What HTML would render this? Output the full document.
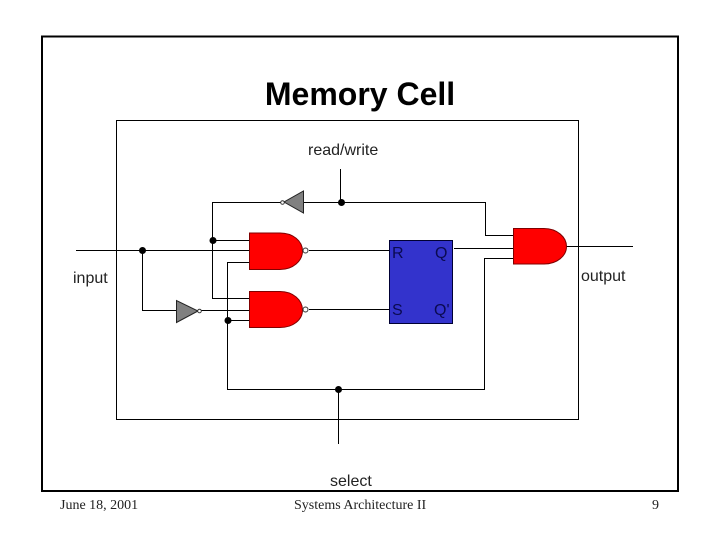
<!DOCTYPE html>
<html><head><meta charset="utf-8"><style>
html,body{margin:0;padding:0;background:#fff}
svg{display:block}
text{font-family:"Liberation Sans",sans-serif;font-size:16px;fill:#222}
.s{font-family:"Liberation Serif",serif;font-size:14px}
</style></head><body>
<svg width="720" height="540" viewBox="0 0 720 540" xmlns="http://www.w3.org/2000/svg">
<rect x="0" y="0" width="720" height="540" fill="#fff"/>
<rect x="42" y="36.500" width="636" height="454.500" fill="none" stroke="#000" stroke-width="2"/>
<rect x="116.500" y="120.500" width="462" height="299" fill="none" stroke="#000" stroke-width="1"/>
<text x="360" y="105" text-anchor="middle" font-weight="bold" style="font-size:32px;fill:#000">Memory Cell</text>
<g fill="none" stroke="#000" stroke-width="1">
<path d="M76 250.500H249M142.500 250V310.500H176M201 310.500H249"/>
<path d="M212.500 298.500V202.500H281M303 202.500H485.500V235.500H513M212 240.500H249M212 298.500H249"/>
<path d="M249 262.500H227.500V389.500H484.500V258.500H513M227 320.500H249"/>
<path d="M340.500 169V202M338.500 389V444"/>
<path d="M309 250.500H390M309 309.500H390M454 248.500H513M566 246.500H633"/>
</g>
<rect x="389.500" y="240.500" width="63" height="83" fill="#3333cc" stroke="#000033" stroke-width="1"/>
<g fill="#ff0000" stroke="#800000" stroke-width="1">
<path d="M249.500 233H280C293 233 302.500 241 302.500 251C302.500 261 293 269.500 280 269.500H249.500Z"/>
<path d="M249.500 291.500H280C293 291.500 302.500 300 302.500 310C302.500 320 293 327.500 280 327.500H249.500Z"/>
<path d="M513.500 228.500H544C557 228.500 566.500 237 566.500 246.500C566.500 256 557 264 544 264H513.500Z"/>
</g>
<g fill="#fff" stroke="#000" stroke-width="1">
<circle cx="305.500" cy="250.500" r="2.500" stroke="#333"/>
<circle cx="305.500" cy="309.500" r="2.500" stroke="#333"/>
</g>
<g fill="#808080" stroke="#222" stroke-width="1">
<path d="M176.500 300.500V322.500L198 311Z"/>
<path d="M303.500 191V213L284 202Z"/>
</g>
<g fill="#fff" stroke="#333" stroke-width="1">
<circle cx="199.500" cy="311" r="1.800"/>
<circle cx="282.500" cy="202.500" r="1.800"/>
</g>
<g fill="#000">
<circle cx="142.500" cy="250.500" r="3.500"/>
<circle cx="213" cy="240.500" r="3.500"/>
<circle cx="228" cy="320.500" r="3.500"/>
<circle cx="341.500" cy="202.500" r="3.500"/>
<circle cx="338.500" cy="389.500" r="3.500"/>
</g>
<text x="308" y="155">read/write</text>
<text x="73" y="283">input</text>
<text x="581" y="281">output</text>
<text x="330" y="486">select</text>
<text x="392" y="258" style="fill:#0a0a50">R</text>
<text x="435" y="258" style="fill:#0a0a50">Q</text>
<text x="392" y="315" style="fill:#0a0a50">S</text>
<text x="434" y="315" style="fill:#0a0a50">Q'</text>
<text x="60" y="509" class="s">June 18, 2001</text>
<text x="294" y="509" class="s">Systems Architecture II</text>
<text x="652" y="509" class="s">9</text>
</svg>
</body></html>
